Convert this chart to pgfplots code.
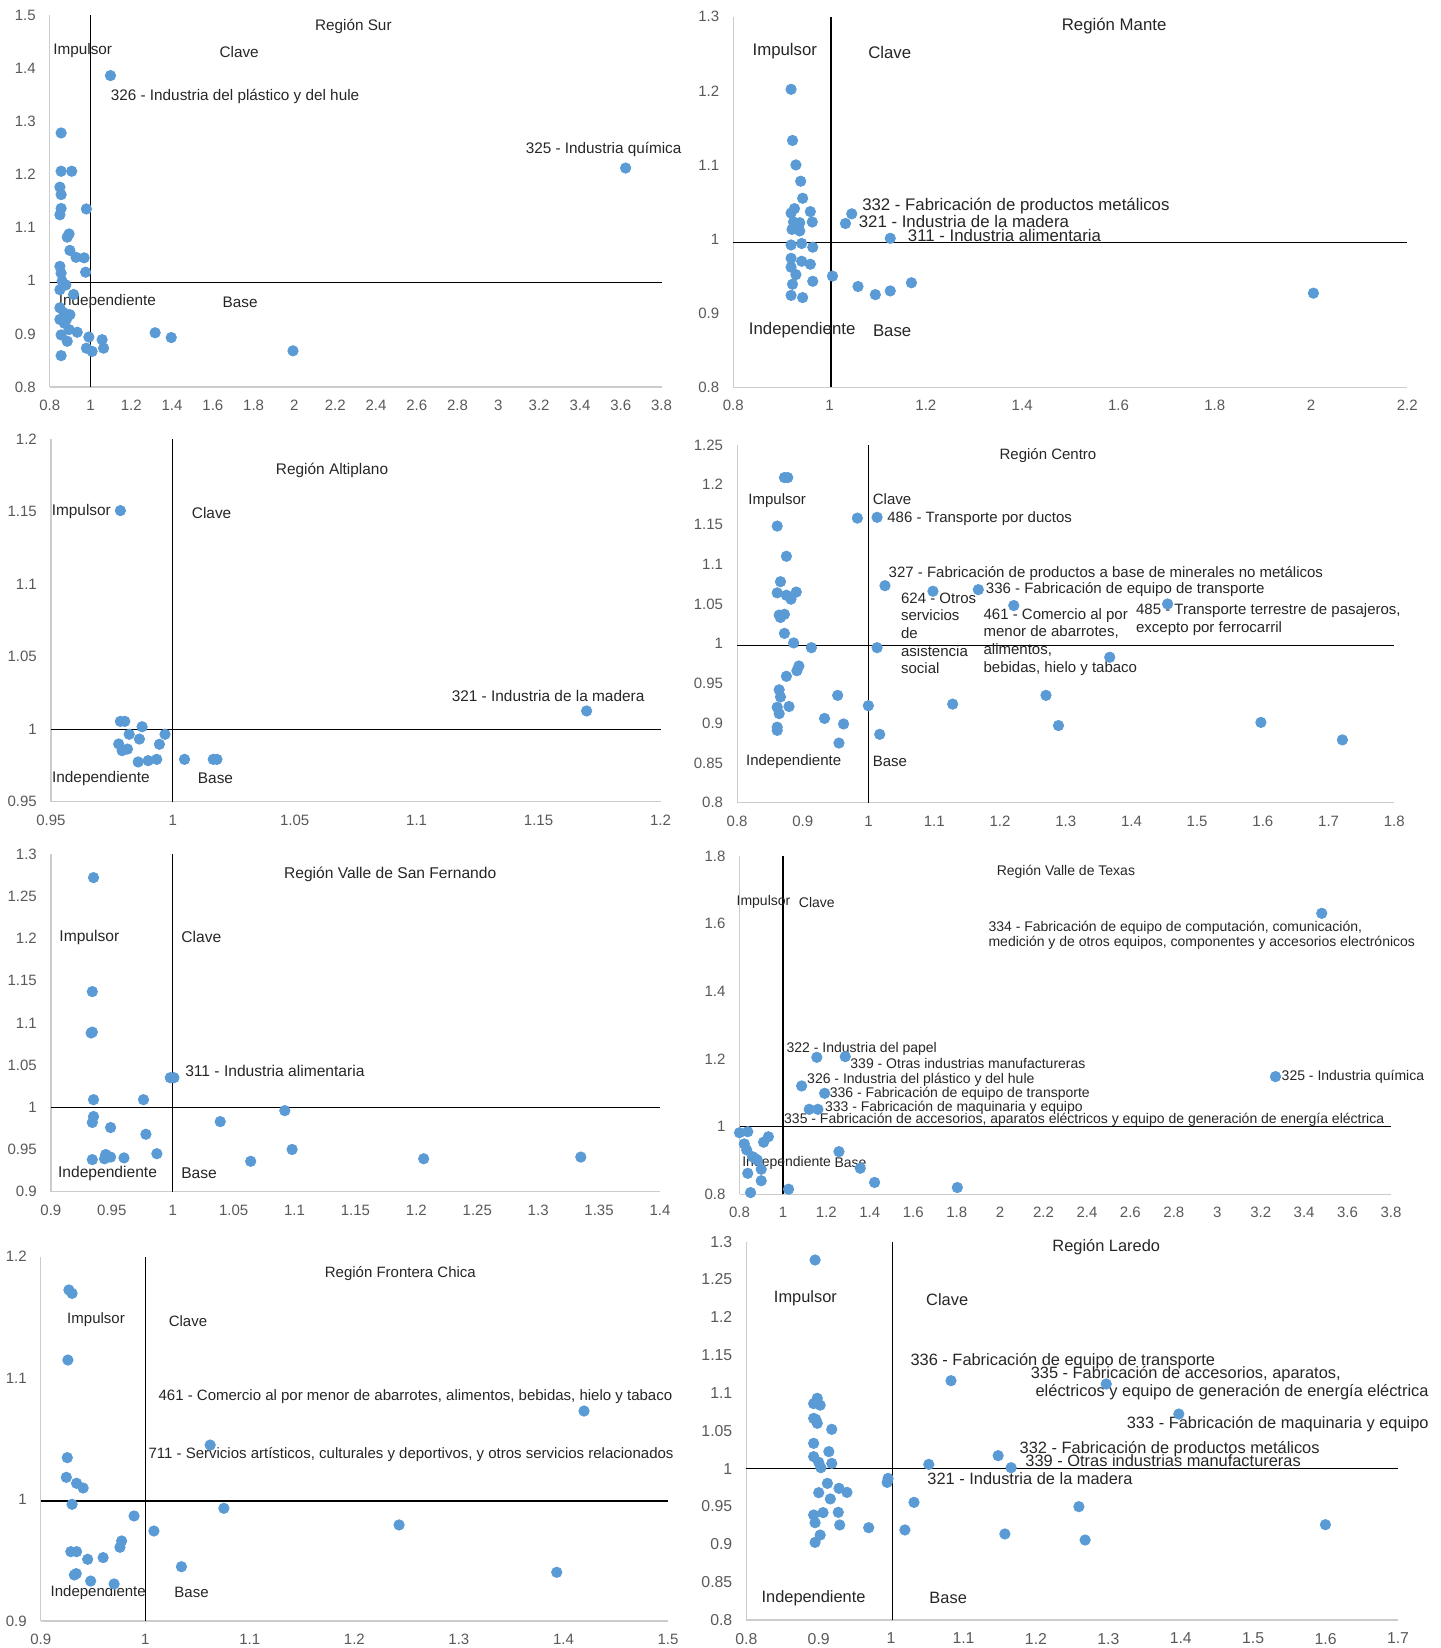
\documentclass[border=0pt]{standalone}
\usepackage{fontspec}
\setmainfont{Liberation Sans}
\usepackage{pgfplots}
\pgfplotsset{compat=1.18}
\definecolor{ptblue}{HTML}{5B9BD5}
\pgfplotsset{
  quad/.style={scale only axis, clip=false, anchor=south west,
    axis x line*=bottom, axis y line*=left,
    axis line style={draw=black!20, -, line width=0.6pt},
    major tick length=0pt, tick style={draw=none},
    scaled ticks=false,
    tick label style={font=\fontsize{7.5}{9}\selectfont, text=black!65},
    xticklabel style={yshift=-3pt},
    yticklabel style={xshift=-3.5pt},
    /pgf/number format/assume math mode=true},
  pts/.style={only marks, mark=*, mark size=2.6pt, color=ptblue},
  cross/.style={black, line width=0.6pt, no marks},
}
\def\pfsize{7.5}\def\pfskip{8.85}
\begin{document}
\begin{tikzpicture}[every node/.append style={font=\fontsize{\pfsize}{\pfskip}\selectfont, text=black!85}]
\useasboundingbox (0,0) rectangle (720pt,824pt);

% ---------- Panel 1: Región Sur
\def\pfsize{7.65}
\begin{axis}[quad, at={(24.85pt,630.5pt)}, width=305.9pt, height=186pt,
  xmin=0.8, xmax=3.8, ymin=0.8, ymax=1.5,
  xtick={0.8,1,1.2,1.4,1.6,1.8,2,2.2,2.4,2.6,2.8,3,3.2,3.4,3.6,3.8},
  ytick={0.8,0.9,1,1.1,1.2,1.3,1.4,1.5}]
\addplot[cross] coordinates {(1,0.8) (1,1.5)};
\addplot[cross] coordinates {(0.8,0.997) (3.8,0.997)};
\addplot[pts] coordinates {
(1.098,1.386) (3.624,1.212) (0.856,1.278) (0.856,1.206) (0.908,1.206)
(0.850,1.176) (0.856,1.162) (0.856,1.136) (0.850,1.124) (0.980,1.135)
(0.895,1.088) (0.886,1.082) (0.899,1.057) (0.929,1.044) (0.969,1.043)
(0.976,1.016) (0.850,1.027) (0.856,1.014) (0.861,0.999) (0.879,0.992)
(0.850,0.983) (0.917,0.974) (0.850,0.949) (0.899,0.936) (0.850,0.927)
(0.872,0.920) (0.856,0.898) (0.886,0.886) (0.895,0.908) (0.935,0.903)
(0.856,0.859) (0.992,0.894) (0.980,0.873) (1.008,0.867) (1.057,0.889)
(1.064,0.873) (1.317,0.902) (1.396,0.893) (1.993,0.868) (0.872,0.939)
(0.883,0.928) };
\node at (axis cs:2.289,1.478) {Región Sur};
\node[anchor=west, inner sep=0pt] at (axis cs:0.816,1.434) {Impulsor};
\node at (axis cs:1.729,1.430) {Clave};
\node[anchor=west, inner sep=0pt] at (axis cs:0.843,0.961) {Independiente};
\node at (axis cs:1.734,0.959) {Base};
\node[anchor=west, inner sep=0pt] at (axis cs:1.098,1.346) {326 - Industria del plástico y del hule};
\node at (axis cs:3.516,1.247) {325 - Industria química};
\end{axis}

% ---------- Panel 2: Región Mante
\def\pfsize{8.4}
\begin{axis}[quad, at={(366.65pt,630.35pt)}, width=337pt, height=185.3pt,
  xmin=0.8, xmax=2.2, ymin=0.8, ymax=1.3,
  xtick={0.8,1,1.2,1.4,1.6,1.8,2,2.2},
  ytick={0.8,0.9,1,1.1,1.2,1.3}]
\addplot[cross] coordinates {(1.003,0.8) (1.003,1.3)};
\addplot[cross] coordinates {(0.8,0.995) (2.2,0.995)};
\addplot[pts] coordinates {
(0.920,1.202) (0.923,1.133) (0.930,1.100) (0.940,1.078) (0.944,1.055)
(0.927,1.041) (0.920,1.035) (0.960,1.037) (0.925,1.023) (0.938,1.022)
(0.964,1.023) (0.922,1.013) (0.938,1.011) (0.920,0.992) (0.942,0.994)
(0.965,0.989) (0.920,0.974) (0.942,0.970) (0.960,0.966) (0.920,0.962)
(0.930,0.952) (0.923,0.939) (0.965,0.943) (0.920,0.924) (0.944,0.921)
(1.006,0.950) (1.059,0.936) (1.095,0.925) (1.126,0.930) (1.170,0.941)
(2.005,0.927) (1.046,1.034) (1.033,1.021) (1.126,1.001) };
\node at (axis cs:1.591,1.287) {Región Mante};
\node at (axis cs:0.907,1.253) {Impulsor};
\node at (axis cs:1.125,1.252) {Clave};
\node at (axis cs:0.943,0.877) {Independiente};
\node at (axis cs:1.130,0.876) {Base};
\node[anchor=west, inner sep=0pt] at (axis cs:1.067,1.044) {332 - Fabricación de productos metálicos};
\node[anchor=west, inner sep=0pt] at (axis cs:1.060,1.023) {321 - Industria de la madera};
\node[anchor=west, inner sep=0pt] at (axis cs:1.162,1.005) {311 - Industria alimentaria};
\end{axis}

% ---------- Panel 3: Región Altiplano
\def\pfsize{7.7}
\begin{axis}[quad, at={(25.45pt,423.15pt)}, width=304.8pt, height=181.2pt,
  xmin=0.95, xmax=1.2, ymin=0.95, ymax=1.2,
  xtick={0.95,1,1.05,1.1,1.15,1.2},
  ytick={0.95,1,1.05,1.1,1.15,1.2}]
\addplot[cross] coordinates {(1,0.95) (1,1.2)};
\addplot[cross] coordinates {(0.95,1) (1.2,1)};
\addplot[pts] coordinates {
(0.9785,1.1508) (1.1697,1.0126) (0.9785,1.0054) (0.9803,1.0054) (0.9874,1.0017)
(0.9821,0.9965) (0.9968,0.9965) (0.9863,0.9932) (0.9778,0.9898) (0.9945,0.9896)
(0.9792,0.9852) (0.9814,0.9863) (0.9858,0.9774) (0.9899,0.9783) (0.9934,0.9792)
(1.0048,0.9792) (1.0166,0.9792) (1.0181,0.9792) };
\node at (axis cs:1.0653,1.1784) {Región Altiplano};
\node[anchor=west, inner sep=0pt] at (axis cs:0.9502,1.150) {Impulsor};
\node at (axis cs:1.0159,1.149) {Clave};
\node at (axis cs:0.9705,0.9661) {Independiente};
\node at (axis cs:1.0175,0.9661) {Base};
\node at (axis cs:1.1539,1.0229) {321 - Industria de la madera};
\end{axis}

% ---------- Panel 4: Región Centro
\def\pfsize{7.5}
\begin{axis}[quad, at={(368.55pt,422.65pt)}, width=328.6pt, height=178.85pt,
  xmin=0.8, xmax=1.8, ymin=0.8, ymax=1.25,
  xtick={0.8,0.9,1,1.1,1.2,1.3,1.4,1.5,1.6,1.7,1.8},
  ytick={0.8,0.85,0.9,0.95,1,1.05,1.1,1.15,1.2,1.25}]
\addplot[cross] coordinates {(1,0.8) (1,1.25)};
\addplot[cross] coordinates {(0.8,0.9975) (1.8,0.9975)};
\addplot[pts] coordinates {
(0.872,1.209) (0.877,1.209) (0.861,1.148) (0.875,1.110) (0.866,1.078)
(0.861,1.064) (0.875,1.061) (0.882,1.056) (0.890,1.065) (0.864,1.036)
(0.872,1.037) (0.866,1.033) (0.872,1.013) (0.886,1.001) (0.913,0.995)
(0.894,0.972) (0.891,0.966) (0.875,0.959) (0.864,0.942) (0.866,0.933)
(0.861,0.920) (0.864,0.912) (0.879,0.921) (0.861,0.895) (0.861,0.891)
(0.953,0.935) (0.933,0.906) (0.962,0.899) (0.955,0.875) (0.9997,0.922)
(1.017,0.886) (1.128,0.924) (1.270,0.935) (1.289,0.897) (1.597,0.901)
(1.721,0.879) (1.367,0.983) (0.983,1.158) (1.013,1.159) (1.025,1.073)
(1.098,1.066) (1.167,1.068) (1.221,1.048) (1.455,1.050) (1.013,0.995) };
\node at (axis cs:1.273,1.2366) {Región Centro};
\node at (axis cs:0.861,1.1796) {Impulsor};
\node[anchor=west, inner sep=0pt] at (axis cs:1.006,1.1816) {Clave};
\node[anchor=west, inner sep=0pt] at (axis cs:1.028,1.1573) {486 - Transporte por ductos};
\node[anchor=west, inner sep=0pt] at (axis cs:1.030,1.0877) {327 - Fabricación de productos a base de minerales no metálicos};
\node[anchor=west, inner sep=0pt] at (axis cs:1.178,1.0676) {336 - Fabricación de equipo de transporte};
\node[anchor=west, inner sep=0pt, align=left] at (axis cs:1.049,1.013) {624 - Otros\\servicios\\de\\asistencia\\social};
\node[anchor=west, inner sep=0pt, align=left] at (axis cs:1.1745,1.0024) {461 - Comercio al por\\menor de abarrotes,\\alimentos,\\bebidas, hielo y tabaco};
\node[anchor=west, inner sep=0pt, align=left] at (axis cs:1.4065,1.0303) {485 - Transporte terrestre de pasajeros,\\excepto por ferrocarril};
\node at (axis cs:0.886,0.8516) {Independiente};
\node[anchor=west, inner sep=0pt] at (axis cs:1.006,0.8516) {Base};
\end{axis}

% ---------- Panel 5: Región Valle de San Fernando
\def\pfsize{7.8}
\begin{axis}[quad, at={(25.45pt,228.15pt)}, width=304.55pt, height=168.85pt,
  xmin=0.9, xmax=1.4, ymin=0.9, ymax=1.3,
  xtick={0.9,0.95,1,1.05,1.1,1.15,1.2,1.25,1.3,1.35,1.4},
  ytick={0.9,0.95,1,1.05,1.1,1.15,1.2,1.25,1.3}]
\addplot[cross] coordinates {(1,0.9) (1,1.3)};
\addplot[cross] coordinates {(0.9,1) (1.4,1)};
\addplot[pts] coordinates {
(0.935,1.272) (0.934,1.137) (0.933,1.088) (0.934,1.089) (0.998,1.035)
(1.001,1.035) (0.935,1.009) (0.976,1.009) (1.092,0.996) (0.935,0.989)
(0.934,0.982) (0.949,0.976) (1.039,0.983) (0.978,0.968) (1.098,0.950)
(0.987,0.945) (0.945,0.944) (0.934,0.938) (0.944,0.939) (0.949,0.941)
(0.960,0.940) (1.064,0.936) (1.206,0.939) (1.335,0.941) };
\node at (axis cs:1.1785,1.2755) {Región Valle de San Fernando};
\node at (axis cs:0.9316,1.2009) {Impulsor};
\node at (axis cs:1.0235,1.2021) {Clave};
\node[anchor=west, inner sep=0pt] at (axis cs:1.010,1.0433) {311 - Industria alimentaria};
\node at (axis cs:0.9465,0.9217) {Independiente};
\node at (axis cs:1.0216,0.9217) {Base};
\end{axis}

% ---------- Panel 6: Región Valle de Texas
\def\pfsize{7.0}\def\pfskip{7.9}
\begin{axis}[quad, at={(369.75pt,226.85pt)}, width=325.75pt, height=169.15pt,
  xmin=0.8, xmax=3.8, ymin=0.8, ymax=1.8,
  xtick={0.8,1,1.2,1.4,1.6,1.8,2,2.2,2.4,2.6,2.8,3,3.2,3.4,3.6,3.8},
  ytick={0.8,1,1.2,1.4,1.6,1.8}]
\addplot[cross] coordinates {(1,0.8) (1,1.8)};
\addplot[cross] coordinates {(0.8,1) (3.8,1)};
\addplot[pts] coordinates {
(3.481,1.6305) (3.268,1.1478) (1.156,1.2049) (1.287,1.2069) (1.086,1.1202)
(1.192,1.0985) (1.121,1.0512) (1.161,1.0512) (0.800,0.982) (0.838,0.985)
(0.822,0.949) (0.833,0.931) (0.860,0.911) (0.871,0.906) (0.911,0.954)
(0.933,0.970) (0.838,0.862) (0.900,0.874) (0.900,0.840) (0.851,0.805)
(1.026,0.815) (1.258,0.926) (1.356,0.877) (1.422,0.835) (1.803,0.820)
(0.882,0.901) };
\node at (axis cs:2.303,1.7537) {Región Valle de Texas};
\node[anchor=west, inner sep=0pt] at (axis cs:0.785,1.664) {Impulsor};
\node[anchor=west, inner sep=0pt] at (axis cs:1.072,1.664) {Clave};
\node[anchor=west, inner sep=0pt, align=left] at (axis cs:1.945,1.5655) {334 - Fabricación de equipo de computación, comunicación,\\medición y de otros equipos, componentes y accesorios electrónicos};
\node[anchor=west, inner sep=0pt] at (axis cs:1.015,1.2286) {322 - Industria del papel};
\node[anchor=west, inner sep=0pt] at (axis cs:1.309,1.1852) {339 - Otras industrias manufactureras};
\node[anchor=west, inner sep=0pt] at (axis cs:1.110,1.138) {326 - Industria del plástico y del hule};
\node[anchor=west, inner sep=0pt] at (axis cs:1.214,1.0966) {336 - Fabricación de equipo de transporte};
\node[anchor=west, inner sep=0pt] at (axis cs:1.192,1.056) {333 - Fabricación de maquinaria y equipo};
\node[anchor=west, inner sep=0pt] at (axis cs:1.004,1.0197) {335 - Fabricación de accesorios, aparatos eléctricos y equipo de generación de energía eléctrica};
\node[anchor=west, inner sep=0pt] at (axis cs:3.295,1.148) {325 - Industria química};
\node[anchor=west, inner sep=0pt] at (axis cs:0.811,0.8936) {Independiente};
\node[anchor=west, inner sep=0pt] at (axis cs:1.236,0.8936) {Base};
\end{axis}

% ---------- Panel 7: Región Frontera Chica
\def\pfsize{7.5}\def\pfskip{8.85}
\begin{axis}[quad, at={(20.35pt,13.5pt)}, width=313.65pt, height=182.15pt,
  xmin=0.9, xmax=1.5, ymin=0.9, ymax=1.2,
  xtick={0.9,1,1.1,1.2,1.3,1.4,1.5},
  ytick={0.9,1,1.1,1.2}]
\addplot[cross] coordinates {(1,0.9) (1,1.2)};
\addplot[cross] coordinates {(0.9,0.9988) (1.5,0.9988)};
\addplot[pts] coordinates {
(0.927,1.1726) (0.930,1.1698) (0.926,1.1149) (1.4197,1.0729) (1.0621,1.0449)
(0.9254,1.0345) (0.9245,1.0183) (0.9343,1.0134) (0.9406,1.0095) (0.930,0.9961)
(0.9893,0.9865) (1.0752,0.9928) (1.0083,0.9741) (1.2428,0.9791) (0.9774,0.9659)
(0.9758,0.9607) (0.9288,0.9571) (0.9343,0.9571) (0.9449,0.9508) (0.9597,0.9522)
(1.0346,0.9447) (1.3936,0.9401) (0.9322,0.9379) (0.934,0.939) (0.9478,0.9329)
(0.9702,0.9305) };
\node at (axis cs:1.244,1.1863) {Región Frontera Chica};
\node at (axis cs:0.9529,1.1479) {Impulsor};
\node at (axis cs:1.0409,1.147) {Clave};
\node at (axis cs:1.2584,1.0847) {461 - Comercio al por menor de abarrotes, alimentos, bebidas, hielo y tabaco};
\node[anchor=west, inner sep=0pt] at (axis cs:1.0028,1.0367) {711 - Servicios artísticos, culturales y deportivos, y otros servicios relacionados};
\node at (axis cs:0.955,0.9233) {Independiente};
\node at (axis cs:1.0443,0.9233) {Base};
\end{axis}

% ---------- Panel 8: Región Laredo
\def\pfsize{8.2}
\begin{axis}[quad, at={(373.15pt,14pt)}, width=325.85pt, height=189.15pt,
  xmin=0.8, xmax=1.7, ymin=0.8, ymax=1.3,
  xtick={0.8,0.9,1,1.1,1.2,1.3,1.4,1.5,1.6,1.7},
  ytick={0.8,0.85,0.9,0.95,1,1.05,1.1,1.15,1.2,1.25,1.3},
  tick label style={font=\fontsize{7.9}{9}\selectfont}]
\addplot[cross] coordinates {(1.002,0.8) (1.002,1.3)};
\addplot[cross] coordinates {(0.8,1) (1.7,1)};
\addplot[pts] coordinates {
(0.895,1.2758) (0.898,1.093) (0.893,1.086) (0.902,1.084) (0.893,1.0665)
(0.898,1.060) (0.896,1.065) (0.918,1.052) (0.893,1.0335) (0.914,1.0225)
(0.893,1.0159) (0.900,1.0084) (0.918,1.007) (0.903,1.0013) (0.912,0.9806)
(0.928,0.974) (0.939,0.9687) (0.900,0.9683) (0.916,0.960) (0.893,0.9388)
(0.906,0.9419) (0.927,0.9423) (0.895,0.9286) (0.929,0.9256) (0.902,0.9123)
(0.895,0.9026) (0.969,0.922) (0.9945,0.9819) (0.9958,0.9872) (1.019,0.919)
(1.0316,0.9555) (1.052,1.0057) (1.0827,1.1163) (1.2971,1.1119) (1.3973,1.0722)
(1.1478,1.0172) (1.1657,1.0013) (1.1571,0.9137) (1.2593,0.9498) (1.2679,0.9057)
(1.5998,0.926) };
\node at (axis cs:1.2971,1.2925) {Región Laredo};
\node at (axis cs:0.8816,1.2251) {Impulsor};
\node at (axis cs:1.0774,1.2229) {Clave};
\node[anchor=west, inner sep=0pt] at (axis cs:1.0263,1.1423) {336 - Fabricación de equipo de transporte};
\node[anchor=west, inner sep=0pt] at (axis cs:1.1923,1.1251) {335 - Fabricación de accesorios, aparatos,};
\node[anchor=west, inner sep=0pt] at (axis cs:1.199,1.1009) {eléctricos y equipo de generación de energía eléctrica};
\node[anchor=west, inner sep=0pt] at (axis cs:1.325,1.0586) {333 - Fabricación de maquinaria y equipo};
\node[anchor=west, inner sep=0pt] at (axis cs:1.177,1.026) {332 - Fabricación de productos metálicos};
\node[anchor=west, inner sep=0pt] at (axis cs:1.185,1.0101) {339 - Otras industrias manufactureras};
\node[anchor=west, inner sep=0pt] at (axis cs:1.0496,0.9872) {321 - Industria de la madera};
\node at (axis cs:0.8929,0.8286) {Independiente};
\node at (axis cs:1.0788,0.8286) {Base};
\end{axis}
\end{tikzpicture}
\end{document}
